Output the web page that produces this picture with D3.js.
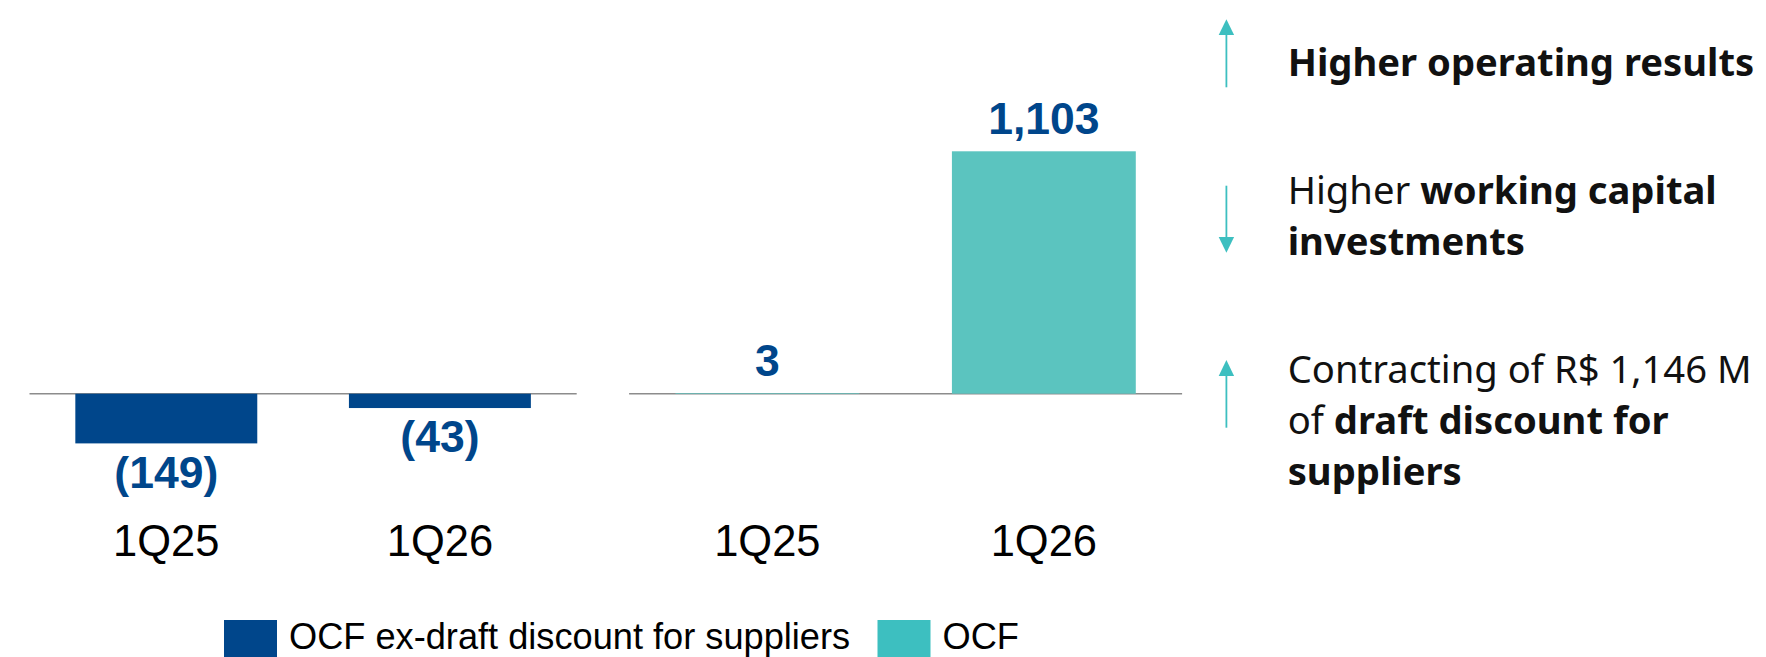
<!DOCTYPE html>
<html>
<head>
<meta charset="utf-8">
<script src="https://cdn.jsdelivr.net/npm/d3@7"></script>
<style>
  html, body { margin: 0; padding: 0; background: #ffffff; }
  svg { display: block; }
</style>
</head>
<body>
<svg id="chart" width="1766" height="657"></svg>
<script>
// ---- data ----
const categories = ["1Q25", "1Q26"];
const ocfExDraft = [-149, -43];
const ocf = [3, 1103];
const legendLabels = ["OCF ex-draft discount for suppliers", "OCF"];
const drivers = [
  { dir: "up",   lines: [[["Higher operating results", true]]] },
  { dir: "down", lines: [[["Higher ", false], ["working capital", true]], [["investments", true]]] },
  { dir: "up",   lines: [[["Contracting of R$ 1,146 M", false]], [["of ", false], ["draft discount for", true]], [["suppliers", true]]] }
];

// ---- styles ----
const BLUE = "#00468B";
const TEAL_BAR = "#5BC4BF";
const TEAL = "#3DBFC0";
const AXIS = "#8C8C8C";
const LABEL_FONT = "'Liberation Sans', Arial, sans-serif";
const TEXT_FONT = "'Noto Sans', 'Open Sans', sans-serif";

const svg = d3.select("#chart");
const baseY = 393.7;
const fmt = v => v < 0 ? "(" + d3.format(",")(-v) + ")" : d3.format(",")(v);

function panel(values, xRange, yScale, color) {
  const x = d3.scaleBand().domain(categories).range(xRange)
    .paddingInner(0.335).paddingOuter(0.1675);
  const g = svg.append("g");
  g.append("line")
    .attr("x1", xRange[0]).attr("x2", xRange[1])
    .attr("y1", yScale(0)).attr("y2", yScale(0))
    .attr("stroke", AXIS).attr("stroke-width", 1.6);
  g.selectAll("rect.bar").data(values).join("rect")
    .attr("class", "bar")
    .attr("x", (d, i) => x(categories[i]))
    .attr("width", x.bandwidth())
    .attr("y", d => Math.min(yScale(d), yScale(0)))
    .attr("height", d => Math.abs(yScale(d) - yScale(0)))
    .attr("fill", color);
  // value labels
  g.selectAll("text.val").data(values).join("text")
    .attr("class", "val")
    .attr("x", (d, i) => x(categories[i]) + x.bandwidth() / 2)
    .attr("y", d => d < 0 ? yScale(d) + 44.4 : yScale(d) - 17.5)
    .attr("text-anchor", "middle")
    .attr("font-family", LABEL_FONT)
    .attr("font-weight", "bold")
    .attr("font-size", 44.5)
    .attr("fill", BLUE)
    .text(d => fmt(d));
  // category labels
  g.selectAll("text.cat").data(categories).join("text")
    .attr("class", "cat")
    .attr("x", d => x(d) + x.bandwidth() / 2)
    .attr("y", 556)
    .attr("text-anchor", "middle")
    .attr("font-family", LABEL_FONT)
    .attr("font-size", 43.5)
    .attr("fill", "#000")
    .text(d => d);
}

const yLeft = d3.scaleLinear().domain([0, d3.min(ocfExDraft)]).range([baseY, 443.4]);
const yRight = d3.scaleLinear().domain([0, d3.max(ocf)]).range([baseY, 151.3]);
panel(ocfExDraft, [29.5, 576.7], yLeft, BLUE);
panel(ocf, [629.1, 1182.1], yRight, TEAL_BAR);

// ---- legend ----
const leg = svg.append("g");
const legItems = [
  { label: legendLabels[0], color: BLUE, x: 224 },
  { label: legendLabels[1], color: TEAL, x: 877.5 }
];
legItems.forEach(it => {
  leg.append("rect").attr("x", it.x).attr("y", 620).attr("width", 53).attr("height", 40).attr("fill", it.color);
  leg.append("text")
    .attr("x", it.x + 65).attr("y", 649.3)
    .attr("font-family", LABEL_FONT)
    .attr("font-size", 36.2)
    .attr("fill", "#000")
    .text(it.label);
});

// ---- drivers text ----
const arrowX = 1226.4;
const arrowGeom = [
  { tip: 19.3, head: 35, tail: 87.3 },
  { tip: 252.7, head: 237, tail: 185.7 },
  { tip: 360, head: 376, tail: 427.7 }
];
const firstBaselines = [76, 204, 383.3];
const lineGap = 51;
const dg = svg.append("g");
drivers.forEach((d, i) => {
  const a = arrowGeom[i];
  dg.append("line").attr("x1", arrowX).attr("x2", arrowX)
    .attr("y1", a.tail).attr("y2", a.head)
    .attr("stroke", TEAL).attr("stroke-width", 1.8);
  dg.append("path")
    .attr("d", `M${arrowX},${a.tip} L${arrowX - 7.7},${a.head} L${arrowX + 7.7},${a.head} Z`)
    .attr("fill", TEAL);
  d.lines.forEach((ln, j) => {
    const t = dg.append("text")
      .attr("x", 1287.7).attr("y", firstBaselines[i] + j * lineGap)
      .attr("font-family", TEXT_FONT)
      .attr("font-size", 38.2)
      .attr("fill", "#111");
    ln.forEach(([s, b]) => {
      t.append("tspan").attr("font-weight", b ? "bold" : "normal").text(s);
    });
  });
});
</script>
</body>
</html>
